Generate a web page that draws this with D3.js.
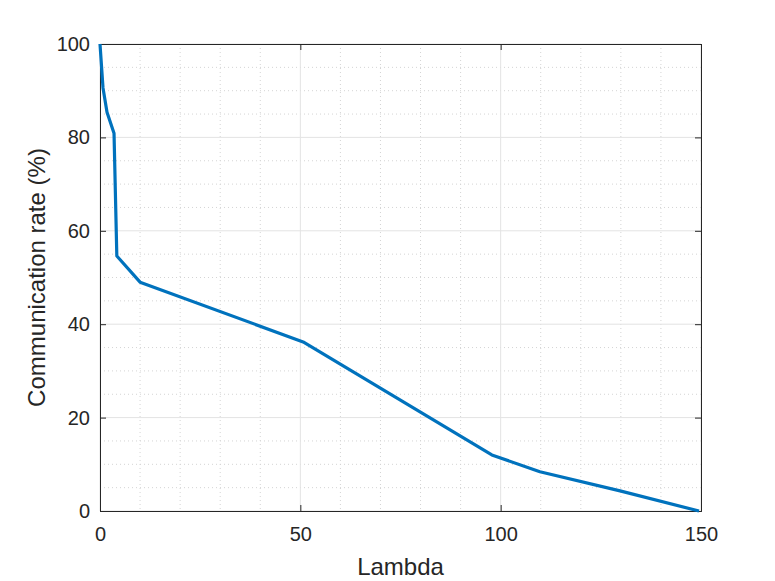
<!DOCTYPE html>
<html lang="en">
<head>
    <meta charset="UTF-8">
    <title>Communication rate</title>
    <style>
        body { margin: 0; background: #fff; }
        svg { display: block; font-family: "Liberation Sans", Arial, sans-serif; }
    </style>
    <script src="https://d3js.org/d3.v7.min.js"></script>
</head>
<body>
    <div id="svg"></div>
    <script>
        const lambda = [0, 0.75, 1.75, 3.5, 4.2, 10, 50.7, 97.8, 109.8, 129.8, 149.5]
        const rate = [100, 90.6, 85.4, 80.9, 54.6, 49, 36.2, 12, 8.4, 4.3, 0]
        const xTicks = [0, 50, 100, 150]
        const yTicks = [0, 20, 40, 60, 80, 100]
        const xMinor = d3.range(0, 151, 10)
        const yMinor = d3.range(0, 101, 5)

        const width = 775, height = 581
        const margin = { top: 44, right: 74, bottom: 70, left: 100 }
        const innerWidth = width - margin.left - margin.right
        const innerHeight = height - margin.top - margin.bottom

        const svg = d3.select("#svg").append("svg").attr("width", width).attr("height", height)
        const g = svg.append("g").attr("transform", `translate(${margin.left}, ${margin.top})`)

        const xScale = d3.scaleLinear().domain([0, 150]).range([0, innerWidth])
        const yScale = d3.scaleLinear().domain([0, 100]).range([innerHeight, 0])

        // minor grid
        g.selectAll(".xminor").data(xMinor.filter(d => !xTicks.includes(d))).enter().append("line")
            .attr("x1", d => xScale(d)).attr("x2", d => xScale(d))
            .attr("y1", 0).attr("y2", innerHeight)
            .attr("stroke", "#d4d4d4").attr("stroke-width", 1).attr("stroke-dasharray", "1,3")
        g.selectAll(".yminor").data(yMinor.filter(d => !yTicks.includes(d))).enter().append("line")
            .attr("y1", d => yScale(d)).attr("y2", d => yScale(d))
            .attr("x1", 0).attr("x2", innerWidth)
            .attr("stroke", "#d4d4d4").attr("stroke-width", 1).attr("stroke-dasharray", "1,3")

        // major grid
        g.selectAll(".xmajor").data(xTicks).enter().append("line")
            .attr("x1", d => xScale(d)).attr("x2", d => xScale(d))
            .attr("y1", 0).attr("y2", innerHeight)
            .attr("stroke", "#e3e3e3").attr("stroke-width", 1)
        g.selectAll(".ymajor").data(yTicks).enter().append("line")
            .attr("y1", d => yScale(d)).attr("y2", d => yScale(d))
            .attr("x1", 0).attr("x2", innerWidth)
            .attr("stroke", "#e3e3e3").attr("stroke-width", 1)

        // axes
        const xAxis = d3.axisBottom(xScale).tickValues(xTicks).tickSize(-6).tickPadding(16)
        const yAxis = d3.axisLeft(yScale).tickValues(yTicks).tickSize(-6).tickPadding(10)
        const xAxisGroup = g.append("g").attr("transform", `translate(0, ${innerHeight})`).call(xAxis)
        const yAxisGroup = g.append("g").call(yAxis)
        const topAxis = g.append("g").call(d3.axisTop(xScale).tickValues(xTicks).tickSize(-6))
        const rightAxis = g.append("g").attr("transform", `translate(${innerWidth}, 0)`).call(d3.axisRight(yScale).tickValues(yTicks).tickSize(-6))
        topAxis.selectAll("text").remove()
        rightAxis.selectAll("text").remove()
        g.selectAll(".domain").attr("stroke", "#262626").attr("stroke-width", 1)
        g.selectAll(".tick line").attr("stroke", "#262626")
        g.selectAll(".tick text").attr("fill", "#262626").attr("font-size", "20px").attr("font-family", "Liberation Sans, Arial, sans-serif")

        xAxisGroup.append("text").attr("x", innerWidth / 2).attr("y", 64).attr("text-anchor", "middle")
            .attr("fill", "#262626").attr("font-size", "24px").text("Lambda")
        yAxisGroup.append("text").attr("transform", "rotate(-90)").attr("x", -innerHeight / 2).attr("y", -55)
            .attr("text-anchor", "middle").attr("fill", "#262626").attr("font-size", "24px").text("Communication rate (%)")

        // curve
        const points = lambda.map((d, i) => [d, rate[i]])
        const line = d3.line().x(d => xScale(d[0])).y(d => yScale(d[1]))
        g.append("path").datum(points).attr("d", line)
            .attr("fill", "none").attr("stroke", "#0072BD").attr("stroke-width", 3.2).attr("stroke-linejoin", "round")
    </script>
</body>
</html>
